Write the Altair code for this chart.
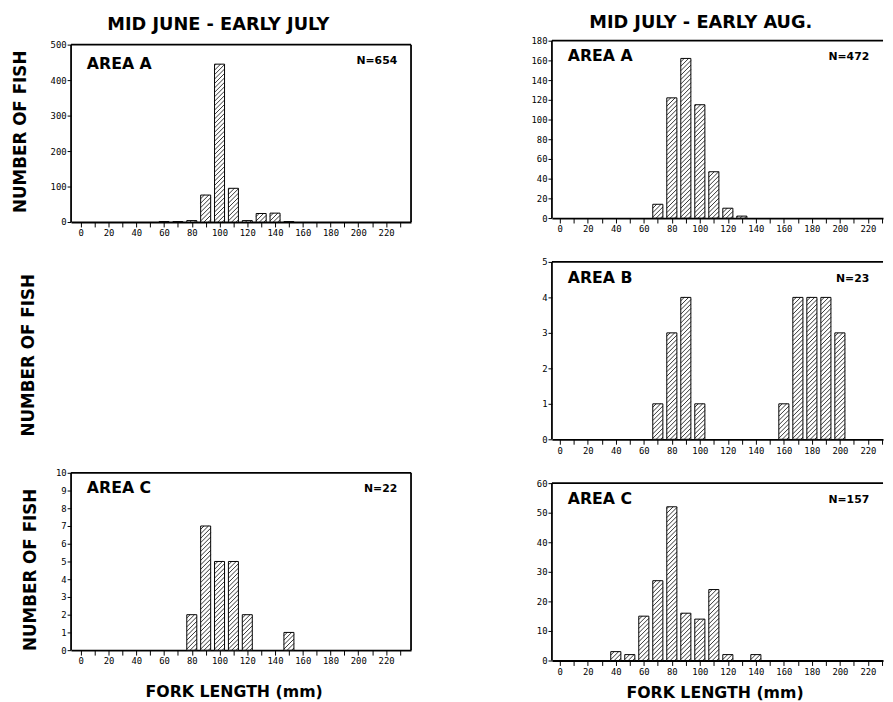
import altair as alt
import pandas as pd

# ---------------- data ----------------
left_a_len = [60, 70, 80, 90, 100, 110, 120, 130, 140, 150]
left_a_n = [1, 1, 4, 76, 445, 95, 4, 24, 25, 1]

right_a_len = [70, 80, 90, 100, 110, 120, 130]
right_a_n = [14, 122, 162, 115, 47, 10, 2]

right_b_len = [70, 80, 90, 100, 160, 170, 180, 190, 200]
right_b_n = [1, 3, 4, 1, 1, 4, 4, 4, 3]

left_c_len = [80, 90, 100, 110, 120, 150]
left_c_n = [2, 7, 5, 5, 2, 1]

right_c_len = [40, 50, 60, 70, 80, 90, 100, 110, 120, 140]
right_c_n = [3, 2, 15, 27, 52, 16, 14, 24, 2, 2]

column_titles = ["MID JUNE - EARLY JULY", "MID JULY - EARLY AUG."]
area_labels = ["AREA A", "AREA A", "AREA B", "AREA C", "AREA C"]
n_labels = ["N=654", "N=472", "N=23", "N=22", "N=157"]
y_title = "NUMBER OF FISH"
x_title = "FORK LENGTH (mm)"
x_tick_values = list(range(0, 240, 10))

# ---------------- layout / style constants ----------------
BAR_W = 7.2
H = 180
W_L, XDOM_L = 345, [-7, 238]
W_R, XDOM_R = 336, [-5.6, 230.8]
BOLD = "DejaVu Sans"
MONO = "DejaVu Sans Mono"
FRAME_W = 1.8


def make_hatch(lengths, counts, W, xdom, ymax, gap=4.5):
    pxx = W / (xdom[1] - xdom[0])
    pxy = H / ymax
    rows = []
    for L, n in zip(lengths, counts):
        xl = L - BAR_W / 2
        wpx = BAR_W * pxx
        hpx = n * pxy
        c = -wpx + gap / 2
        while c < hpx:
            u0 = max(0.0, -c)
            u1 = min(wpx, hpx - c)
            if u1 > u0 + 0.3:
                rows.append(dict(hx0=xl + u0 / pxx, hy0=(u0 + c) / pxy,
                                 hx1=xl + u1 / pxx, hy1=(u1 + c) / pxy))
            c += gap
    return pd.DataFrame(rows)


def panel(lengths, counts, ymax, ystep, area, ntext, right_col,
          ytitle_x=None, ytitle_y=None, xtitle_y=None, xtitle_x=None,
          title=None, title_dx=0, title_offset=10, area_y=8, top_pad=0):
    W = W_R if right_col else W_L
    xdom = XDOM_R if right_col else XDOM_L
    Hh = H + top_pad
    ytop = ymax * Hh / H
    df = pd.DataFrame({"len": lengths, "n": counts})
    df["x0"] = df["len"] - BAR_W / 2
    df["x1"] = df["len"] + BAR_W / 2
    hatch = make_hatch(lengths, counts, W, xdom, ymax)

    xs = alt.Scale(domain=xdom, nice=False, zero=False)
    ys = alt.Scale(domain=[0, ytop], nice=False)
    xvals = [v for v in x_tick_values if xdom[0] <= v <= xdom[1]]
    xaxis_kw = dict(values=xvals,
                    labelExpr="datum.value % 20 == 0 ? datum.label : ''",
                    tickSize=5, labelPadding=2, grid=False, labelFlush=False,
                    labelOverlap=False, labelFont=MONO, labelFontSize=9)
    if xtitle_y is not None:
        xaxis_kw.update(title=x_title, titleFont=BOLD, titleFontSize=16,
                        titleFontWeight="bold", titleBaseline="middle",
                        titleY=xtitle_y, titleX=xtitle_x, titleColor="black")
    else:
        xaxis_kw.update(title=None)
    yaxis_kw = dict(values=list(range(0, ymax + 1, ystep)), tickSize=4,
                    labelPadding=1, grid=False, labelFont=MONO,
                    labelFontSize=9, labelOverlap=False, domain=False)
    if ytitle_x is not None:
        yaxis_kw.update(title=y_title, titleFont=BOLD, titleFontSize=17,
                        titleFontWeight="bold", titleBaseline="middle",
                        titleX=ytitle_x, titleColor="black")
        if ytitle_y is not None:
            yaxis_kw.update(titleY=ytitle_y)
    else:
        yaxis_kw.update(title=None)
    xaxis = alt.Axis(**xaxis_kw)
    yaxis = alt.Axis(**yaxis_kw)

    bars = alt.Chart(df).mark_bar(fill="white", stroke="black",
                                  strokeWidth=1).encode(
        x=alt.X("x0:Q", scale=xs, axis=xaxis),
        x2="x1:Q",
        y=alt.Y("n:Q", scale=ys, axis=yaxis),
        y2=alt.datum(0),
    )
    hatch_layer = alt.Chart(hatch).mark_rule(stroke="black",
                                             strokeWidth=0.8).encode(
        x=alt.X("hx0:Q", scale=xs, axis=xaxis), x2="hx1:Q",
        y=alt.Y("hy0:Q", scale=ys, axis=yaxis), y2="hy1:Q",
    )
    lab = pd.DataFrame({"area": [area], "ntext": [ntext]})
    # frame: top edge, left edge, (right edge for the left column)
    frame_top = alt.Chart(lab).mark_rule(stroke="black",
                                         strokeWidth=FRAME_W).encode(
        x=alt.value(0), x2=alt.value(W),
        y=alt.Y(datum=ymax, scale=ys, axis=yaxis))
    frame_left = alt.Chart(lab).mark_rule(stroke="black",
                                          strokeWidth=FRAME_W).encode(
        x=alt.value(0),
        y=alt.Y(datum=0, scale=ys, axis=yaxis), y2=alt.Y2(datum=ymax))
    layers = [bars, hatch_layer, frame_top, frame_left]
    if not right_col:
        frame_right = alt.Chart(lab).mark_rule(
            stroke="black", strokeWidth=FRAME_W).encode(
            x=alt.value(W),
            y=alt.Y(datum=0, scale=ys, axis=yaxis), y2=alt.Y2(datum=ymax))
        layers.append(frame_right)
    area_text = alt.Chart(lab).mark_text(
        align="left", baseline="top", font=BOLD, fontWeight="bold",
        fontSize=16, color="black").encode(
        x=alt.value(16), y=alt.value(area_y + top_pad), text="area:N")
    n_text = alt.Chart(lab).mark_text(
        align="right", baseline="top", font=BOLD, fontWeight="bold",
        fontSize=11, color="black").encode(
        x=alt.value(W - 14), y=alt.value(11 + top_pad), text="ntext:N")
    layers += [area_text, n_text]
    props = dict(width=W, height=Hh)
    if title is not None:
        props["title"] = alt.Title(title, font=BOLD, fontSize=18,
                                   fontWeight="bold", anchor="middle",
                                   frame="group", dx=title_dx,
                                   offset=title_offset, color="black")
    return alt.layer(*layers).properties(**props)


left_a = panel(left_a_len, left_a_n, 500, 100, area_labels[0], n_labels[0],
               False, ytitle_x=-51, title=column_titles[0], title_dx=-23,
               title_offset=6.5, area_y=12, top_pad=4)
mid = alt.Chart(pd.DataFrame({"n": [0]})).mark_point(opacity=0).encode(
    y=alt.Y("n:Q", scale=alt.Scale(domain=[0, 1]),
            axis=alt.Axis(title=y_title, labels=False, ticks=False,
                          domain=False, grid=False, titleFont=BOLD,
                          titleFontSize=17, titleFontWeight="bold",
                          titleBaseline="middle", titleX=-43, titleY=93,
                          titleColor="black"))
).properties(width=W_L, height=H)
left_c = panel(left_c_len, left_c_n, 10, 1, area_labels[3], n_labels[3],
               False, ytitle_x=-41, ytitle_y=98, xtitle_y=42, xtitle_x=165)

right_a = panel(right_a_len, right_a_n, 180, 20, area_labels[1], n_labels[1],
                True, title=column_titles[1], title_dx=-17, title_offset=5)
right_b = panel(right_b_len, right_b_n, 5, 1, area_labels[2], n_labels[2],
                True)
right_c = panel(right_c_len, right_c_n, 60, 10, area_labels[4], n_labels[4],
                True, xtitle_y=33, xtitle_x=165)

left_col = alt.vconcat(left_a, mid, left_c, spacing=23.75)
right_col = alt.vconcat(right_a, right_b, right_c, spacing=22.5)

chart = alt.hconcat(left_col, right_col, spacing=119).properties(
    padding={"left": 3, "top": 0, "right": 0, "bottom": 0}
).configure_view(stroke="transparent").configure_axis(
    domainColor="black", domainWidth=FRAME_W, tickColor="black",
    tickWidth=1, labelColor="black"
)

chart.save("out.html", embed_options={"renderer": "svg", "actions": False})
